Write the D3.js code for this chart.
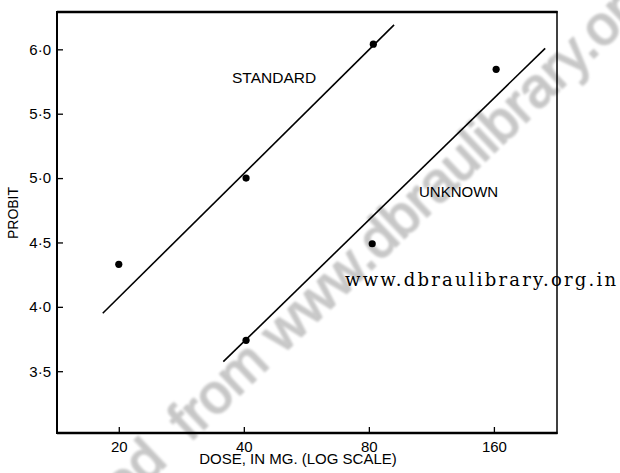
<!DOCTYPE html>
<html>
<head>
<meta charset="utf-8">
<script src="https://cdn.jsdelivr.net/npm/d3@7"></script>
<style>
  html, body { margin: 0; padding: 0; background: #fff; }
  svg { display: block; }
</style>
</head>
<body>
<svg id="chart" width="620" height="473"></svg>
<script>
// Dose (mg, log scale) and probit response for the two preparations
const standardDose   = [20, 40.5, 82];
const standardProbit = [4.33, 5.0, 6.04];
const unknownDose    = [40.5, 81.5, 162];
const unknownProbit  = [3.74, 4.49, 5.845];

// Fitted parallel probit lines (end points)
const standardFitDose   = [18.3, 92.0];
const standardFitProbit = [3.95, 6.19];
const unknownFitDose    = [35.7, 212.6];
const unknownFitProbit  = [3.574, 6.008];

// Axis ticks
const doseTicks   = [20, 40, 80, 160];
const probitTicks = [3.5, 4.0, 4.5, 5.0, 5.5, 6.0];

const svg = d3.select("#chart");
const frame = { left: 57, right: 557, top: 12, bottom: 433 };
const font = "'Liberation Sans', Arial, sans-serif";

const x = d3.scaleLog().base(2).domain([14.2, 227]).range([frame.left, frame.right]);
const y = d3.scaleLinear().domain([3.02, 6.29]).range([frame.bottom, frame.top]);

// Faint diagonal watermark behind the plot
const defs = svg.append("defs");
defs.append("filter").attr("id", "soft")
  .append("feGaussianBlur").attr("stdDeviation", 1.2);
const wm = svg.append("text")
  .attr("transform", "translate(-57,677.7) rotate(-43.6)")
  .attr("font-family", font)
  .attr("font-size", 56)
  .attr("fill", "#c6c6c6")
  .attr("stroke", "#cbcbcb")
  .attr("stroke-width", 2)
  .attr("stroke-linejoin", "round")
  .attr("filter", "url(#soft)");
wm.append("tspan").text("Downloaded");
wm.append("tspan").attr("dx", 14).text(" from www.dbraulibrary.org.in");

// Frame
const g = svg.append("g");
g.append("line").attr("x1", frame.left).attr("x2", frame.right + 0.5)
  .attr("y1", frame.top).attr("y2", frame.top)
  .attr("stroke", "#000").attr("stroke-width", 2.4);
g.append("line").attr("x1", frame.left).attr("x2", frame.right + 0.5)
  .attr("y1", frame.bottom).attr("y2", frame.bottom)
  .attr("stroke", "#000").attr("stroke-width", 2.4);
g.append("line").attr("x1", frame.left).attr("x2", frame.left)
  .attr("y1", frame.top - 1).attr("y2", frame.bottom + 1)
  .attr("stroke", "#000").attr("stroke-width", 2);
g.append("line").attr("x1", frame.right).attr("x2", frame.right)
  .attr("y1", frame.top - 1).attr("y2", frame.bottom + 1)
  .attr("stroke", "#000").attr("stroke-width", 1.5);

// Axes with inward ticks
const fmtProbit = d => d.toFixed(1).replace(".", "·");

const yAxis = d3.axisLeft(y).tickValues(probitTicks).tickFormat(fmtProbit)
  .tickSizeInner(-6).tickSizeOuter(0).tickPadding(6);
const gy = svg.append("g").attr("transform", `translate(${frame.left},0)`).call(yAxis);

const xAxis = d3.axisBottom(x).tickValues(doseTicks).tickFormat(d => String(d))
  .tickSizeInner(-6).tickSizeOuter(0).tickPadding(8);
const gx = svg.append("g").attr("transform", `translate(0,${frame.bottom})`).call(xAxis);

[gx, gy].forEach(a => {
  a.select(".domain").remove();
  a.selectAll(".tick line").attr("stroke", "#000").attr("stroke-width", 1.3);
  a.selectAll(".tick text").attr("fill", "#000")
    .attr("font-family", font).attr("font-size", 15);
});

// Axis titles
svg.append("text")
  .attr("x", 298).attr("y", 464)
  .attr("text-anchor", "middle")
  .attr("font-family", font).attr("font-size", 15)
  .attr("fill", "#000")
  .text("DOSE, IN MG. (LOG SCALE)");

svg.append("text")
  .attr("transform", "translate(18,213) rotate(-90)")
  .attr("text-anchor", "middle")
  .attr("font-family", font).attr("font-size", 14)
  .attr("fill", "#000")
  .text("PROBIT");

// Fitted lines
const line = d3.line().x(d => x(d[0])).y(d => y(d[1]));
const fits = [
  d3.zip(standardFitDose, standardFitProbit),
  d3.zip(unknownFitDose, unknownFitProbit)
];
svg.append("g").selectAll("path").data(fits).join("path")
  .attr("d", line)
  .attr("fill", "none")
  .attr("stroke", "#000")
  .attr("stroke-width", 1.6);

// Observed points
const pts = d3.zip(standardDose, standardProbit).concat(d3.zip(unknownDose, unknownProbit));
svg.append("g").selectAll("circle").data(pts).join("circle")
  .attr("cx", d => x(d[0]))
  .attr("cy", d => y(d[1]))
  .attr("r", 3.6)
  .attr("fill", "#000");

// Line labels
svg.append("text")
  .attr("x", 232).attr("y", 83)
  .attr("font-family", font).attr("font-size", 15.5)
  .attr("fill", "#000")
  .text("STANDARD");
svg.append("text")
  .attr("x", 419).attr("y", 197)
  .attr("font-family", font).attr("font-size", 15)
  .attr("fill", "#000")
  .text("UNKNOWN");

// Library stamp
svg.append("text")
  .attr("x", 345).attr("y", 286)
  .attr("font-family", "'DejaVu Serif', serif").attr("font-size", 18)
  .attr("textLength", 271).attr("lengthAdjust", "spacing")
  .attr("fill", "#000")
  .text("www.dbraulibrary.org.in");
</script>
</body>
</html>
